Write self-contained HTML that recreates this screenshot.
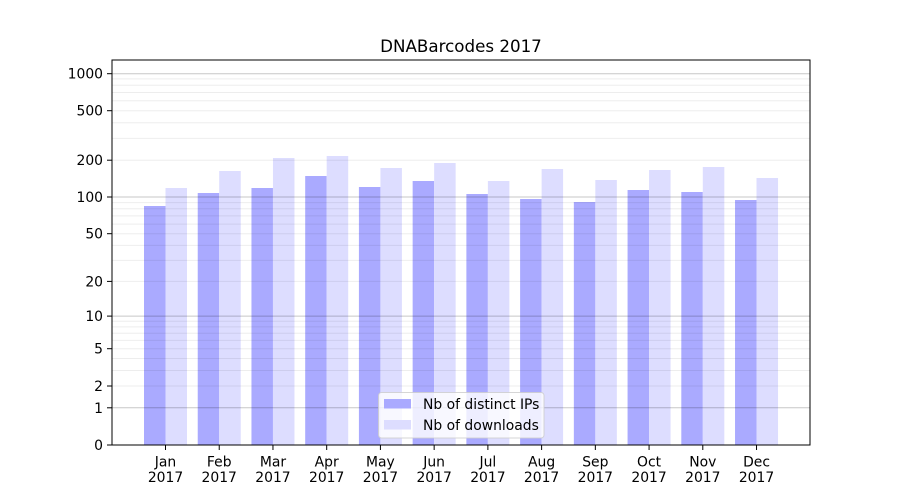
<!DOCTYPE html>
<html><head><meta charset="utf-8"><style>
html,body{margin:0;padding:0;background:#fff;}
svg{display:block;font-family:"DejaVu Sans","Liberation Sans",sans-serif;}
</style></head><body>
<svg width="900" height="500" viewBox="0 0 900 500" xmlns="http://www.w3.org/2000/svg">
<rect width="900" height="500" fill="#fff"/>
<text x="461" y="52" font-size="16.7" text-anchor="middle" fill="#000">DNABarcodes 2017</text>
<g fill="#aaaaff">
<rect x="144" y="206" width="21.5" height="239"/>
<rect x="197.73" y="193" width="21.5" height="252"/>
<rect x="251.46" y="188" width="21.5" height="257"/>
<rect x="305.19" y="176" width="21.5" height="269"/>
<rect x="358.92" y="187" width="21.5" height="258"/>
<rect x="412.65" y="181" width="21.5" height="264"/>
<rect x="466.38" y="194" width="21.5" height="251"/>
<rect x="520.11" y="199" width="21.5" height="246"/>
<rect x="573.84" y="202" width="21.5" height="243"/>
<rect x="627.57" y="190" width="21.5" height="255"/>
<rect x="681.3" y="192" width="21.5" height="253"/>
<rect x="735.03" y="200" width="21.5" height="245"/>
</g>
<g fill="#ddddff">
<rect x="165.5" y="188" width="21.5" height="257"/>
<rect x="219.23" y="171" width="21.5" height="274"/>
<rect x="272.96" y="158" width="21.5" height="287"/>
<rect x="326.69" y="156" width="21.5" height="289"/>
<rect x="380.42" y="168" width="21.5" height="277"/>
<rect x="434.15" y="163" width="21.5" height="282"/>
<rect x="487.88" y="181" width="21.5" height="264"/>
<rect x="541.61" y="169" width="21.5" height="276"/>
<rect x="595.34" y="180" width="21.5" height="265"/>
<rect x="649.07" y="170" width="21.5" height="275"/>
<rect x="702.8" y="167" width="21.5" height="278"/>
<rect x="756.53" y="178" width="21.5" height="267"/>
</g>
<g stroke="rgba(0,0,0,0.07)" stroke-width="1">
<line x1="112" x2="810" y1="386" y2="386"/><line x1="112" x2="810" y1="370.5" y2="370.5"/><line x1="112" x2="810" y1="358.5" y2="358.5"/><line x1="112" x2="810" y1="348.7" y2="348.7"/><line x1="112" x2="810" y1="340.4" y2="340.4"/><line x1="112" x2="810" y1="333.2" y2="333.2"/><line x1="112" x2="810" y1="326.9" y2="326.9"/><line x1="112" x2="810" y1="321.3" y2="321.3"/>
<line x1="112" x2="810" y1="281.4" y2="281.4"/><line x1="112" x2="810" y1="260.4" y2="260.4"/><line x1="112" x2="810" y1="245.4" y2="245.4"/><line x1="112" x2="810" y1="233.7" y2="233.7"/><line x1="112" x2="810" y1="224.1" y2="224.1"/><line x1="112" x2="810" y1="215.9" y2="215.9"/><line x1="112" x2="810" y1="208.8" y2="208.8"/><line x1="112" x2="810" y1="202.6" y2="202.6"/>
<line x1="112" x2="810" y1="160.2" y2="160.2"/><line x1="112" x2="810" y1="138.4" y2="138.4"/><line x1="112" x2="810" y1="122.8" y2="122.8"/><line x1="112" x2="810" y1="110.7" y2="110.7"/><line x1="112" x2="810" y1="100.8" y2="100.8"/><line x1="112" x2="810" y1="92.5" y2="92.5"/><line x1="112" x2="810" y1="85.3" y2="85.3"/><line x1="112" x2="810" y1="78.9" y2="78.9"/>
</g>
<g stroke="rgba(0,0,0,0.22)" stroke-width="1">
<line x1="112" x2="810" y1="407.8" y2="407.8"/><line x1="112" x2="810" y1="316.1" y2="316.1"/><line x1="112" x2="810" y1="197" y2="197"/><line x1="112" x2="810" y1="73.7" y2="73.7"/>
</g>
<rect x="112" y="60" width="698" height="385" fill="none" stroke="#000" stroke-width="1"/>
<g stroke="#000" stroke-width="1">
<line x1="107" x2="112" y1="445" y2="445"/><line x1="107" x2="112" y1="407.8" y2="407.8"/><line x1="107" x2="112" y1="386" y2="386"/><line x1="107" x2="112" y1="348.7" y2="348.7"/><line x1="107" x2="112" y1="316.1" y2="316.1"/><line x1="107" x2="112" y1="281.4" y2="281.4"/><line x1="107" x2="112" y1="233.7" y2="233.7"/><line x1="107" x2="112" y1="197" y2="197"/><line x1="107" x2="112" y1="160.2" y2="160.2"/><line x1="107" x2="112" y1="110.7" y2="110.7"/><line x1="107" x2="112" y1="73.7" y2="73.7"/>
</g>
<g font-size="13.9" text-anchor="end" fill="#000">
<text x="103" y="450">0</text><text x="103" y="412.8">1</text><text x="103" y="391">2</text><text x="103" y="353.7">5</text><text x="103" y="321">10</text><text x="103" y="286.4">20</text><text x="103" y="238.7">50</text><text x="103" y="202">100</text><text x="103" y="165.2">200</text><text x="103" y="115.7">500</text><text x="103" y="78.7">1000</text>
</g>
<g stroke="#000" stroke-width="1">
<line x1="165.5" x2="165.5" y1="445" y2="450"/><line x1="219.23" x2="219.23" y1="445" y2="450"/><line x1="272.96" x2="272.96" y1="445" y2="450"/><line x1="326.69" x2="326.69" y1="445" y2="450"/><line x1="380.42" x2="380.42" y1="445" y2="450"/><line x1="434.15" x2="434.15" y1="445" y2="450"/><line x1="487.88" x2="487.88" y1="445" y2="450"/><line x1="541.61" x2="541.61" y1="445" y2="450"/><line x1="595.34" x2="595.34" y1="445" y2="450"/><line x1="649.07" x2="649.07" y1="445" y2="450"/><line x1="702.8" x2="702.8" y1="445" y2="450"/><line x1="756.53" x2="756.53" y1="445" y2="450"/>
</g>
<g font-size="13.9" text-anchor="middle" fill="#000">
<text x="165.5" y="466.5">Jan</text><text x="165.5" y="482">2017</text>
<text x="219.23" y="466.5">Feb</text><text x="219.23" y="482">2017</text>
<text x="272.96" y="466.5">Mar</text><text x="272.96" y="482">2017</text>
<text x="326.69" y="466.5">Apr</text><text x="326.69" y="482">2017</text>
<text x="380.42" y="466.5">May</text><text x="380.42" y="482">2017</text>
<text x="434.15" y="466.5">Jun</text><text x="434.15" y="482">2017</text>
<text x="487.88" y="466.5">Jul</text><text x="487.88" y="482">2017</text>
<text x="541.61" y="466.5">Aug</text><text x="541.61" y="482">2017</text>
<text x="595.34" y="466.5">Sep</text><text x="595.34" y="482">2017</text>
<text x="649.07" y="466.5">Oct</text><text x="649.07" y="482">2017</text>
<text x="702.8" y="466.5">Nov</text><text x="702.8" y="482">2017</text>
<text x="756.53" y="466.5">Dec</text><text x="756.53" y="482">2017</text>
</g>
<rect x="378.5" y="392.5" width="165.5" height="45.5" rx="3" fill="rgba(255,255,255,0.8)" stroke="rgba(204,204,204,0.8)" stroke-width="1"/>
<rect x="384" y="399" width="27" height="9.5" fill="#aaaaff"/>
<rect x="384" y="420" width="27" height="9.5" fill="#ddddff"/>
<g font-size="13.9" fill="#000">
<text x="423" y="409">Nb of distinct IPs</text>
<text x="423" y="430">Nb of downloads</text>
</g>
</svg>
</body></html>
